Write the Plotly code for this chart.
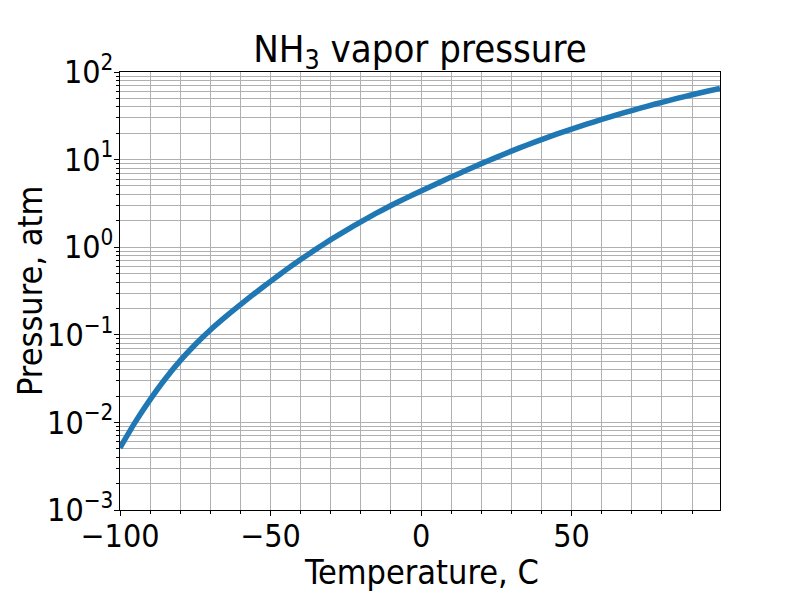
import plotly.graph_objects as go

# NH3 saturation pressure (every 5 C)
temperature_c = [-100, -95, -90, -85, -80, -75, -70, -65, -60, -55,
                 -50, -45, -40, -35, -30, -25, -20, -15, -10, -5,
                 0, 5, 10, 15, 20, 25, 30, 35, 40, 45,
                 50, 55, 60, 65, 70, 75, 80, 85, 90, 95, 99.3]
pressure_atm = [0.00513, 0.0100, 0.0182, 0.0313, 0.0507, 0.0776, 0.1135, 0.160, 0.221, 0.302,
                0.407, 0.547, 0.724, 0.944, 1.22, 1.55, 1.95, 2.43, 2.99, 3.63,
                4.39, 5.27, 6.31, 7.55, 9.00, 10.6, 12.5, 14.6, 16.9, 19.5,
                22.3, 25.4, 28.7, 32.4, 36.3, 40.6, 45.1, 49.9, 55.0, 60.3, 65.0]

x_ticks = [-100, -50, 0, 50]
x_labels = ["\u2212100", "\u221250", "0", "50"]
y_ticks = [1e-3, 1e-2, 1e-1, 1e0, 1e1, 1e2]
y_labels = ["10<sup>\u22123</sup>", "10<sup>\u22122</sup>", "10<sup>\u22121</sup>",
            "10<sup>0</sup>", "10<sup>1</sup>", "10<sup>2</sup>"]

FONT = "Liberation Sans Narrow, DejaVu Sans Condensed, Liberation Sans, sans-serif"
GRID = "#b0b0b0"

fig = go.Figure()
fig.add_trace(go.Scatter(
    x=temperature_c, y=pressure_atm, mode="lines",
    line=dict(color="#1f77b4", width=5.5, shape="spline", smoothing=0.5),
    showlegend=False,
))

fig.update_layout(
    width=800, height=600,
    margin=dict(l=112, r=88, t=64, b=98),
    paper_bgcolor="white", plot_bgcolor="white",
    font=dict(family=FONT, size=32, color="black"),
    title=dict(text="NH<sub>3</sub> vapor pressure", x=0.515, xanchor="center",
               y=0.933, yanchor="middle", font=dict(family=FONT, size=38)),
)

fig.update_xaxes(
    range=[-100, 99.3], tickvals=x_ticks, ticktext=x_labels,
    ticks="outside", ticklen=5, tickcolor="black", automargin=False,
    tickfont=dict(family=FONT, size=32), ticklabelstandoff=-8,
    showline=True, linecolor="black", linewidth=1.3, mirror=True,
    showgrid=True, gridcolor=GRID, gridwidth=1, zeroline=False,
    minor=dict(dtick=10, showgrid=True, gridcolor=GRID, gridwidth=1,
               ticks="outside", ticklen=3, tickcolor="black"),
)
fig.update_yaxes(
    type="log", range=[-3, 2], tickvals=y_ticks, ticktext=y_labels,
    ticks="outside", ticklen=5, tickcolor="black", automargin=False,
    tickfont=dict(family=FONT, size=32), ticklabelstandoff=-6,
    showline=True, linecolor="black", linewidth=1.3, mirror=True,
    showgrid=True, gridcolor=GRID, gridwidth=1, zeroline=False,
    minor=dict(dtick="D1", showgrid=True, gridcolor=GRID, gridwidth=1,
               ticks="outside", ticklen=3, tickcolor="black"),
)

# axis titles placed as annotations for exact positioning
fig.add_annotation(text="Temperature, C", xref="paper", yref="paper",
                   x=0.502, y=-0.1416, xanchor="center", yanchor="middle",
                   showarrow=False, font=dict(family=FONT, size=34))
fig.add_annotation(text="Pressure, atm", xref="paper", yref="paper",
                   x=-0.15, y=0.5, xanchor="center", yanchor="middle", textangle=-90,
                   showarrow=False, font=dict(family=FONT, size=34))

fig.write_html("out.html")
